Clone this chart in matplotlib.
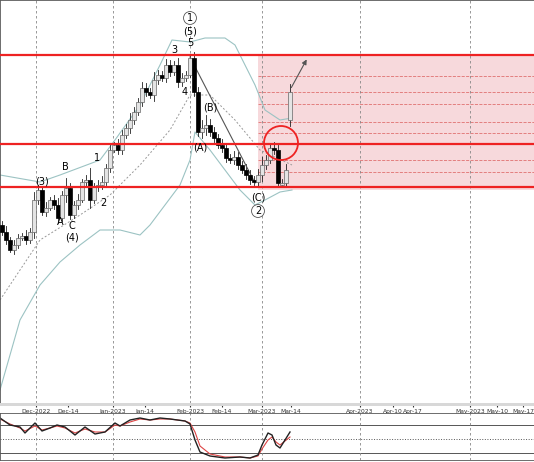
import matplotlib
matplotlib.use("Agg")
import matplotlib.pyplot as plt
from matplotlib.patches import Rectangle, Circle

# ── Data (x = chart position, y = price in chart units, inverted) ─────
bar_x = [2 + 4 * i for i in range(73)]
closes = [232, 240, 250, 245, 238, 236, 240, 232, 200, 190, 212, 208, 200, 205, 218,
          195, 188, 215, 205, 200, 182, 180, 200, 187, 185, 182, 168, 150, 145, 150,
          135, 128, 120, 112, 102, 88, 92, 95, 80, 75, 78, 65, 72, 65, 82, 78, 75, 58,
          92, 132, 128, 125, 132, 138, 145, 148, 158, 160, 157, 165, 170, 175, 180, 182,
          175, 165, 160, 148, 150, 183, 183, 170, 92]
first_open = 225
last_open = 120
wicks = [4, 6, 3, 5, 4, 3, 6, 4, 8, 5, 4, 6, 3, 5, 7, 4, 10, 5, 4, 6, 3, 5, 12, 4,
         5, 6, 4, 5, 3, 6, 5, 4, 7, 5, 4, 6, 5, 4, 8, 5, 4, 6, 5, 4, 7, 5, 4, 3, 6,
         5, 8, 10, 6, 5, 4, 6, 5, 4, 6, 5, 4, 6, 5, 4, 6, 8, 5, 4, 6, 5, 4, 6, 8]

upper_x = [0, 40, 60, 100, 115, 140, 160, 172, 190, 205, 225, 235, 245, 255, 265, 280, 292]
upper_y = [175, 182, 175, 160, 140, 105, 65, 40, 42, 38, 38, 45, 65, 85, 110, 120, 118]
lower_x = [0, 20, 40, 60, 80, 100, 120, 140, 150, 165, 180, 190, 195, 210, 225, 240, 255, 265, 280, 292]
lower_y = [390, 320, 285, 262, 245, 230, 230, 235, 225, 205, 185, 160, 132, 150, 170, 190, 205, 200, 192, 190]
mid_x = [0, 40, 80, 110, 140, 170, 190, 210, 235, 260, 292]
mid_y = [300, 240, 215, 195, 165, 130, 95, 95, 120, 150, 165]

levels = [55, 144, 187]
fib_levels = [76, 92, 104, 122, 133, 160, 172]

tick_pos = [36, 68, 113, 145, 190, 222, 262, 291, 360, 393, 413, 470, 497, 523]
tick_lab = ["Dec-2022", "Dec-14", "Jan-2023", "Jan-14", "Feb-2023", "Feb-14", "Mar-2023",
            "Mar-14", "Apr-2023", "Apr-10", "Apr-17", "May-2023", "May-10", "May-17"]
month_pos = [36, 113, 190, 262, 360, 470]

osc_x = [0, 10, 20, 25, 35, 42, 50, 57, 65, 75, 85, 95, 105, 115, 120, 130, 140, 150,
         160, 170, 185, 190, 195, 200, 210, 225, 240, 250, 258, 262, 268, 272, 276, 280, 290]
osc_y = [418, 425, 427, 433, 423, 431, 428, 425, 427, 435, 427, 434, 432, 423, 426, 420,
         418, 420, 418, 419, 421, 424, 440, 452, 456, 458, 457, 458, 455, 445, 433, 435,
         445, 448, 432]
sig_y = [419, 424, 428, 431, 426, 430, 428, 426, 428, 433, 429, 432, 432, 425, 426, 422,
         419, 420, 419, 419, 421, 423, 432, 446, 454, 457, 457, 458, 456, 449, 440, 437,
         442, 445, 437]

labels = [(190, 18, "1", True), (190, 31, "(5)", False), (190, 43, "5", False),
          (174, 50, "3", False), (185, 92, "4", False), (210, 107, "(B)", False),
          (200, 147, "(A)", False), (258, 198, "(C)", False), (258, 211, "2", True),
          (42, 181, "(3)", False), (65, 167, "B", False), (60, 222, "A", False),
          (72, 226, "C", False), (72, 238, "(4)", False), (97, 158, "1", False),
          (103, 203, "2", False)]

# ── Figure ─────────────────────────────────────────────────────────────
fig = plt.figure(figsize=(5.34, 4.62), dpi=100)
ax = fig.add_axes([0, 1 - 403 / 462, 1, 403 / 462])
ax.set_xlim(0, 534)
ax.set_ylim(403, 0)

ax.add_patch(Rectangle((258, 55), 276, 135, facecolor="#f7d9dc", edgecolor="none", zorder=0))
for y in fib_levels:
    ax.plot([258, 534], [y, y], color="#e07070", lw=0.6, ls="--", zorder=1)
for x in month_pos:
    ax.axvline(x, color="#888888", lw=0.6, ls=(0, (3, 3)), zorder=1)

ax.plot(upper_x, upper_y, color="#9cc3c3", lw=0.8, zorder=2)
ax.plot(lower_x, lower_y, color="#9cc3c3", lw=0.8, zorder=2)
ax.plot(mid_x, mid_y, color="#999999", lw=0.7, ls=(0, (2, 2)), zorder=2)

opens = [first_open] + closes[:-2] + [last_open]
for x, o, c, w in zip(bar_x, opens, closes, wicks):
    top, bot = min(o, c), max(o, c)
    ax.plot([x, x], [top - w, bot + w * 0.7], color="#222222", lw=0.6, zorder=3)
    down = c > o
    ax.add_patch(Rectangle((x - 1.6, top), 3.2, max(bot - top, 1.5),
                           facecolor="black" if down else "#e4e4e4",
                           edgecolor="black" if down else "#666666", lw=0.5, zorder=4))

for y in levels:
    ax.axhline(y, color="#ee2222", lw=1.6, zorder=5)

ax.plot([190, 255], [57, 183], color="#555555", lw=0.8, zorder=3)
ax.annotate("", xy=(308, 57), xytext=(290, 90),
            arrowprops=dict(arrowstyle="-|>", color="#555555", lw=0.8, mutation_scale=7))
ax.add_patch(Circle((281, 143), 17, fill=False, edgecolor="#ee2222", lw=1.3, zorder=6))

for x, y, t, circ in labels:
    bbox = dict(boxstyle="circle,pad=0.15", fc="white", ec="#555555", lw=0.6) if circ else None
    ax.text(x, y, t, fontsize=7, ha="center", va="center", bbox=bbox, zorder=7)

ax.set_xticks(tick_pos)
ax.set_xticklabels(tick_lab, fontsize=4.3)
ax.tick_params(axis="x", length=3, pad=1, colors="#333333")
ax.set_yticks([])
for s in ax.spines.values():
    s.set_color("#555555")
    s.set_linewidth(0.6)

# grey band under the price panel (date strip)
fig.patches.append(Rectangle((0, 1 - 406 / 462), 1, 3 / 462, transform=fig.transFigure,
                             facecolor="#d8d8d8", edgecolor="none"))

osc = fig.add_axes([0, 2 / 462, 1, 47 / 462])
osc.set_xlim(0, 534)
osc.set_ylim(460, 413)
for y, ls in [(425, "-"), (439, ":"), (453, "-")]:
    osc.axhline(y, color="#555555", lw=0.7, ls=ls)
for x in month_pos:
    osc.axvline(x, color="#888888", lw=0.6, ls=(0, (3, 3)))
osc.plot(osc_x, sig_y, color="#dd4444", lw=0.8)
osc.plot(osc_x, osc_y, color="#222222", lw=1.0)
osc.set_xticks([])
osc.set_yticks([])
for s in osc.spines.values():
    s.set_color("#555555")
    s.set_linewidth(0.6)

fig.savefig("out.png", dpi=100, facecolor="white")
